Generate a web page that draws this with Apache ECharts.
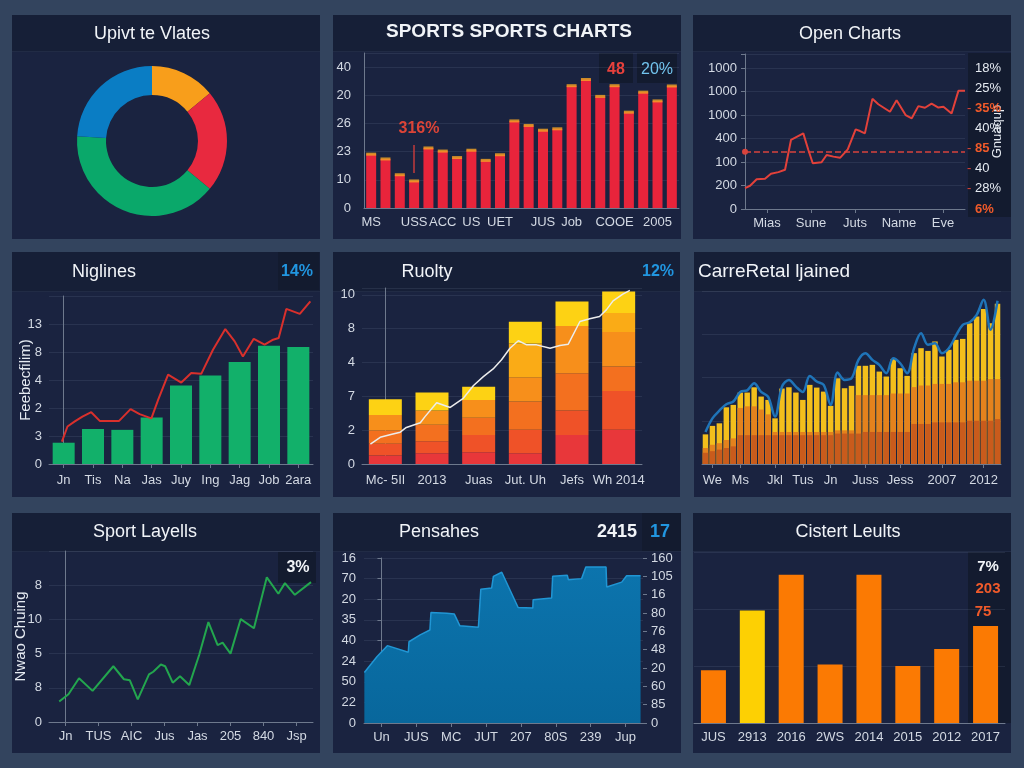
<!DOCTYPE html>
<html><head><meta charset="utf-8">
<script src="https://cdn.jsdelivr.net/npm/echarts@6/dist/echarts.min.js"></script>
<style>
html,body{margin:0;padding:0;background:#33445e;width:1024px;height:768px;overflow:hidden}
.panel{position:absolute;background:#1a2340}
.head{position:absolute;left:0;top:0;right:0;background:#161f37;border-bottom:1px solid #212b45}
.box{position:absolute;background:#131b2f}
#chart{position:absolute;left:0;top:0;width:1024px;height:768px}
</style></head><body>
<div id="chart"></div>
<script>
// ---------------- DATA ----------------
// Panel 1 – donut
const p1Names = ['Orange', 'Red', 'Green', 'Blue'];
const p1Values = [14, 22, 40, 24];

// Panel 2 – SPORTS SPORTS CHARTS
const p2Categories = ['MS','','','USS','','ACC','','US','','UET','','','JUS','','Job','','','COOE','','','2005',''];
const p2Values = [19.1,17.4,11.8,9.6,21.3,20.2,17.9,20.5,16.9,18.9,30.9,29.3,27.6,28.1,43.4,45.6,39.6,43.4,34.0,41.1,38.0,43.3];
const p2YLabels = ['0','10','23','26','20','40'];

// Panel 3 – Open Charts
const p3X = [0,2.3,5.3,9.1,11.8,15.2,18.2,20.9,26.5,28.8,30.8,34.8,37.1,40.2,43.2,46.7,50.3,52.3,54.5,57.9,60.6,63.6,65.9,68.9,73.0,75.8,78.8,81.8,84.8,87.9,90.2,93.9,97.0,100];
const p3Y = [0.89,0.99,1.27,1.29,1.50,1.57,1.67,2.94,3.22,2.51,1.95,1.99,2.30,2.23,2.18,2.54,3.39,3.32,3.22,4.69,4.46,4.28,4.14,4.63,4.00,3.86,4.38,4.31,4.49,4.32,4.35,4.07,5.03,5.03];
const p3Threshold = 2.44;
const p3XLabels = ['Mias','Sune','Juts','Name','Eve'];
const p3YLabels = ['0','200','100','400','1000','1000','1000'];
const p3RightLabels = ['6%','28%','40','85','40%','35%','25%','18%'];
const p3RightName = 'Gnuaqup';

// Panel 4 – Niglines
const p4Categories = ['Jn','Tis','Na','Jas','Juy','Ing','Jag','Job','2ara'];
const p4Bars = [0.76,1.25,1.22,1.66,2.80,3.16,3.64,4.22,4.18];
const p4LineX = [-0.06,0.13,0.38,0.64,0.94,1.23,1.57,1.89,2.28,2.59,2.99,3.22,3.56,4.01,4.35,4.69,5.09,5.51,5.83,6.11,6.48,6.85,7.14,7.33,7.59,8.05,8.41];
const p4LineY = [0.80,1.34,1.52,1.69,1.85,1.54,1.54,1.54,1.96,1.78,1.63,2.29,3.19,2.91,3.25,3.22,4.08,4.82,4.38,3.84,4.47,4.26,4.44,4.50,5.54,5.36,5.81];
const p4YLabels = ['0','3','2','4','8','13'];
const p4YName = 'Feebecfilim)';

// Panel 5 – Ruolty (stacked layers, bottom to top)
const p5Categories = ['Mc- 5Il','2013','Juas','Jut. Uh','Jefs','Wh 2014'];
const p5Layer1 = [0.25,0.32,0.35,0.32,0.86,1.01];
const p5Layer2 = [0.35,0.35,0.51,0.69,0.72,1.15];
const p5Layer3 = [0.39,0.49,0.51,0.84,1.10,0.72];
const p5Layer4 = [0.46,0.42,0.52,0.71,1.40,1.02];
const p5Layer5 = [0,0,0,1.00,0,0.56];
const p5Layer6 = [0.46,0.53,0.39,0.64,0.72,0.64];
const p5LineX = [-0.32,-0.11,0.14,0.32,0.45,0.75,0.85,1.10,1.39,1.67,1.89,2.10,2.31,2.49,2.67,2.85,3.03,3.24,3.53,3.74,3.92,4.17,4.38,4.59,4.74,4.88,5.09,5.24];
const p5LineY = [0.59,0.79,0.88,0.94,1.08,1.22,1.40,1.81,1.67,1.94,2.32,2.58,2.81,3.08,3.42,3.64,3.52,3.52,3.42,3.50,3.54,4.21,4.29,4.36,4.56,4.82,5.02,5.13];
const p5YLabels = ['0','2','7','4','8','10'];

// Panel 6 – CarreRetal ljained
const p6Categories = ['','We','','','','Ms','','','','','Jkl','','','','Tus','','','','Jn','','','','','Juss','','','','','Jess','','','','','','2007','','','','','','2012','',''];
const p6Total = [1.85,2.38,2.54,3.54,3.69,4.46,4.46,4.79,4.21,4.00,2.85,4.71,4.79,4.46,4.00,4.94,4.77,4.52,3.63,5.35,4.73,4.88,6.13,6.13,6.19,5.77,5.46,6.56,5.98,5.50,6.92,7.23,7.06,7.65,6.71,7.13,7.75,7.81,8.79,9.21,9.67,8.79,10.00];
const p6Mid = [1.0,1.2,1.3,1.5,1.6,3.5,3.6,3.6,3.4,3.1,2.0,2.0,2.0,2.0,2.0,2.0,2.0,2.0,2.0,2.1,2.1,2.1,4.3,4.3,4.3,4.3,4.3,4.4,4.4,4.4,4.8,4.9,4.9,5.0,5.0,5.0,5.1,5.1,5.2,5.2,5.2,5.3,5.3];
const p6Low = [0.7,0.8,0.9,1.0,1.1,1.8,1.8,1.8,1.8,1.8,1.8,1.8,1.8,1.8,1.8,1.8,1.8,1.8,1.8,1.9,1.9,1.9,1.9,2.0,2.0,2.0,2.0,2.0,2.0,2.0,2.5,2.5,2.5,2.6,2.6,2.6,2.6,2.6,2.7,2.7,2.7,2.7,2.8];
const p6Line = [2.0,2.85,3.33,3.73,3.9,4.5,4.6,5.04,4.5,4.2,2.96,4.83,5.25,4.83,4.5,5.5,5.15,4.94,3.69,5.71,5.25,5.35,6.5,6.92,6.5,6.19,5.67,6.6,6.29,5.67,7.23,8.17,7.44,7.54,6.92,7.23,8.0,8.69,8.85,9.31,10.25,8.38,10.19];

// Panel 7 – Sport Layells
const p7Categories = ['Jn','TUS','AIC','Jus','Jas','205','840','Jsp'];
const p7LineX = [-0.19,0.09,0.41,0.82,1.45,1.77,1.95,2.19,2.53,2.66,2.89,3.02,3.25,3.47,3.75,4.05,4.33,4.61,4.76,5.0,5.31,5.71,6.10,6.45,6.65,6.95,7.44];
const p7LineY = [0.60,0.81,1.28,0.91,1.63,1.25,1.22,0.66,1.39,1.47,1.68,1.63,1.15,1.34,1.08,1.96,2.92,2.25,2.32,2.00,3.01,2.74,4.23,3.75,4.06,3.72,4.09];
const p7YLabels = ['0','8','5','10','8'];
const p7YName = 'Nwao Chuing';

// Panel 8 – Pensahes
const p8Categories = ['Un','JUS','MC','JUT','207','80S','239','Jup'];
const p8LineX = [-0.49,-0.13,0.17,0.77,0.79,1.11,1.39,1.42,1.87,2.09,2.25,2.78,2.85,3.16,3.21,3.45,3.92,4.34,4.35,4.88,4.91,5.33,5.36,5.74,5.86,6.44,6.46,6.89,7.03,7.43];
const p8LineY = [2.45,3.21,3.75,3.43,3.94,4.27,4.51,5.36,5.32,5.28,4.71,4.64,6.49,6.54,7.11,7.31,5.60,5.57,5.97,6.06,7.11,7.16,6.95,7.00,7.56,7.56,6.59,6.83,7.14,7.14];
const p8LeftLabels = ['0','22','50','24','40','35','20','70','16'];
const p8RightLabels = ['0','85','60','20','48','76','80','16','105','160'];

// Panel 9 – Cistert Leults
const p9Categories = ['JUS','2913','2016','2WS','2014','2015','2012','2017'];
const p9Values = [37,79,104,41,104,40,52,68];

// ---------------- LAYOUT / STYLE ----------------
const FONT = "'Liberation Sans', Arial, Helvetica, sans-serif";
const LBL = '#d3d9e3', AXL = '#6e798d', SPL = 'rgba(160,175,200,0.12)';
const WHITE = '#f1f4f8', BLUE = '#2196e0', ORANGE = '#f05a2a';

const panels = [
  [12,15,308,224,36],[333,15,348,224,36],[693,15,318,224,36],
  [12,252,308,245,39],[333,252,347,245,39],[694,252,317,245,39],
  [12,513,308,240,38],[333,513,348,240,38],[693,513,318,240,38]
];
const boxes = [[599,53,34,30],[637,53,40,30],[968,53,43,164],[278,252,41,38],[278,552,38,31],[642,513,39,38],[968,552,43,171]];
const chartEl = document.getElementById('chart');
panels.forEach(p => {
  const d = document.createElement('div'); d.className = 'panel';
  d.style.cssText = `left:${p[0]}px;top:${p[1]}px;width:${p[2]}px;height:${p[3]}px`;
  const h = document.createElement('div'); h.className = 'head'; h.style.height = p[4] + 'px';
  d.appendChild(h); document.body.insertBefore(d, chartEl);
});
boxes.forEach(b => {
  const d = document.createElement('div'); d.className = 'box';
  d.style.cssText = `left:${b[0]}px;top:${b[1]}px;width:${b[2]}px;height:${b[3]}px`;
  document.body.insertBefore(d, chartEl);
});

const grids = [], xAxes = [], yAxes = [], series = [], gfx = [];
const addGrid = g => (grids.push(g), grids.length - 1);
const addX = a => (xAxes.push(a), xAxes.length - 1);
const addY = a => (yAxes.push(a), yAxes.length - 1);
const zip = (xs, ys) => xs.map((x, i) => [x, ys[i]]);
function pick(labels, v, step) {
  const i = Math.round(v / step);
  return (Math.abs(v - i * step) < 1e-6 && i >= 0 && i < labels.length) ? labels[i] : '';
}
function catAxis(grid, data, margin, ticks) {
  return {type:'category', gridIndex:grid, data, position:'bottom', boundaryGap:true,
    axisLine:{show:true, lineStyle:{color:AXL, width:1}},
    axisTick:{show:!!ticks, alignWithLabel:true, length:4, lineStyle:{color:AXL}, interval: typeof ticks === 'function' ? ticks : 0},
    axisLabel:{show:true, color:LBL, fontSize:13, fontFamily:FONT, margin, interval:0},
    splitLine:{show:false}};
}
function valAxis(grid, labels, step, max, margin, extra) {
  return Object.assign({type:'value', gridIndex:grid, min:0, max, interval:step,
    axisLine:{show:true, lineStyle:{color:AXL}}, axisTick:{show:false},
    splitLine:{show:true, lineStyle:{color:SPL}},
    axisLabel:{show:true, color:LBL, fontSize:13, fontFamily:FONT, margin, showMinLabel:true, showMaxLabel:true,
      formatter: v => pick(labels, v, step)}}, extra || {});
}
const hidVal = (grid, min, max) => ({type:'value', gridIndex:grid, min, max, show:false});
function txt(x, y, text, size, color, weight, align) {
  return {type:'text', x, y, z:100, silent:true,
    style:{text, fill:color, font:`${weight || 'normal'} ${size}px ${FONT}`,
      textAlign:align || 'center', textVerticalAlign:'middle', align:align || 'center', verticalAlign:'middle'}};
}

// titles
gfx.push(txt(152, 34, 'Upivt te Vlates', 18, WHITE));
gfx.push(txt(509, 32, 'SPORTS SPORTS CHARTS', 19, WHITE, 'bold'));
gfx.push(txt(850, 34, 'Open Charts', 18, WHITE));
gfx.push(txt(104, 272, 'Niglines', 18, WHITE));
gfx.push(txt(427, 272, 'Ruolty', 18, WHITE));
gfx.push(txt(698, 272, 'CarreRetal ljained', 19, WHITE, 'normal', 'left'));
gfx.push(txt(145, 532, 'Sport Layells', 18, WHITE));
gfx.push(txt(439, 532, 'Pensahes', 18, WHITE));
gfx.push(txt(848, 532, 'Cistert Leults', 18, WHITE));
// annotations
gfx.push(txt(419, 129, '316%', 16, '#dc4437', 'bold'));
gfx.push({type:'line', z:100, silent:true, shape:{x1:414, y1:145, x2:414, y2:173}, style:{stroke:'#c23b3b', lineWidth:1.5}});
gfx.push(txt(616, 70, '48', 16, '#e8413c', 'bold'));
gfx.push(txt(657, 70, '20%', 16, '#72c4ee'));
gfx.push(txt(297, 272, '14%', 16, BLUE, 'bold'));
gfx.push(txt(658, 272, '12%', 16, BLUE, 'bold'));
gfx.push(txt(298, 568, '3%', 16, WHITE, 'bold'));
gfx.push(txt(617, 532, '2415', 18, WHITE, 'bold'));
gfx.push(txt(660, 532, '17', 18, BLUE, 'bold'));
gfx.push(txt(988, 567, '7%', 15, WHITE, 'bold'));
gfx.push(txt(988, 589, '203', 15, ORANGE, 'bold'));
gfx.push(txt(983, 612, '75', 15, ORANGE, 'bold'));

// Panel 1
const p1Colors = ['#f89e1b', '#e8293f', '#0aa86a', '#0a7dc4'];
series.push({type:'pie', center:[152,141], radius:[46,75], startAngle:90, clockwise:true, silent:true,
  label:{show:false}, labelLine:{show:false},
  data: p1Names.map((n, i) => ({name:n, value:p1Values[i], itemStyle:{color:p1Colors[i], borderWidth:0}}))});

// Panel 2
const g2 = addGrid({left:364, top:53, width:315, height:155});
const x2 = addX(catAxis(g2, p2Categories, 8, false));
const y2 = addY(valAxis(g2, p2YLabels, 10, 55, 13));
series.push({type:'bar', xAxisIndex:x2, yAxisIndex:y2, data:p2Values, barWidth:10, silent:true, itemStyle:{color:'#e8243b'}});
series.push({type:'scatter', xAxisIndex:x2, yAxisIndex:y2, data:p2Values, symbol:'rect', symbolSize:[10,3], silent:true, z:4, itemStyle:{color:'#f6a524'}});

// Panel 3
const g3 = addGrid({left:745, top:54, width:220, height:155});
const x3v = addX(hidVal(g3, 0, 100));
const x3c = addX(catAxis(g3, p3XLabels, 8, true));
const y3 = addY(valAxis(g3, p3YLabels, 1, 6.6, 8, {axisTick:{show:true, length:4, lineStyle:{color:AXL}}}));
const p3Orange = [0, 3, 5], p3Dash = [1, 2, 3, 5];
const y3r = addY({type:'value', gridIndex:g3, position:'right', min:0, max:7.7, interval:1,
  axisLine:{show:false}, axisTick:{show:false}, splitLine:{show:false},
  name:p3RightName, nameLocation:'middle', nameRotate:90, nameGap:26, nameMoveOverlap:false,
  nameTextStyle:{color:'#e6ebf2', fontSize:13, fontFamily:FONT},
  axisLabel:{show:true, align:'left', margin:2, fontFamily:FONT, fontSize:13, showMaxLabel:true,
    formatter: v => {
      const s = pick(p3RightLabels, v, 1); if (!s) return '';
      const i = Math.round(v);
      return (p3Dash.includes(i) ? '{d|-} ' : '{n|-} ') + (p3Orange.includes(i) ? '{o|' + s + '}' : '{w|' + s + '}');
    },
    rich:{w:{color:'#e6ebf2', fontSize:13, fontFamily:FONT}, o:{color:ORANGE, fontSize:13, fontWeight:'bold', fontFamily:FONT},
      d:{color:'#d9443a', fontSize:13, fontFamily:FONT}, n:{color:'rgba(0,0,0,0)', fontSize:13, fontFamily:FONT}}}});
series.push({type:'line', xAxisIndex:x3v, yAxisIndex:y3, data:zip(p3X, p3Y), symbol:'none', silent:true,
  lineStyle:{color:'#e3413a', width:2}, z:5,
  markLine:{silent:true, symbol:['circle','none'], symbolSize:6, label:{show:false},
    lineStyle:{color:'#d8433c', type:'dashed', width:1.5}, data:[{yAxis:p3Threshold}]}});

// Panel 4
const g4 = addGrid({left:49, top:296, width:264, height:168});
const x4 = addX(catAxis(g4, p4Categories, 10, true));
const x4v = addX(hidVal(g4, -0.5, 8.5));
const y4 = addY(valAxis(g4, p4YLabels, 1, 6, 7, {name:p4YName, nameLocation:'middle', nameRotate:90, nameGap:16, nameMoveOverlap:false,
  nameTextStyle:{color:'#e6ebf2', fontSize:15, fontFamily:FONT}}));
series.push({type:'bar', xAxisIndex:x4, yAxisIndex:y4, data:p4Bars, barWidth:22, silent:true, itemStyle:{color:'#12b06a'}});
series.push({type:'line', xAxisIndex:x4v, yAxisIndex:y4, data:zip(p4LineX, p4LineY), symbol:'none', silent:true, z:5, lineStyle:{color:'#d9302c', width:2}});

// Panel 5
const g5 = addGrid({left:362, top:288, width:280, height:176});
const x5 = addX(catAxis(g5, p5Categories, 10, false));
const x5v = addX(hidVal(g5, -0.5, 5.5));
const y5 = addY(valAxis(g5, p5YLabels, 1, 5.2, 7));
const p5Colors = ['#e8373a', '#ef5228', '#f3701f', '#f78f1b', '#faab16', '#fdd214'];
[p5Layer1, p5Layer2, p5Layer3, p5Layer4, p5Layer5, p5Layer6].forEach((layer, i) => {
  series.push({type:'bar', xAxisIndex:x5, yAxisIndex:y5, stack:'p5', data:layer, barWidth:33, silent:true, itemStyle:{color:p5Colors[i]}});
});
series.push({type:'line', xAxisIndex:x5v, yAxisIndex:y5, data:zip(p5LineX, p5LineY), symbol:'none', silent:true, z:6, lineStyle:{color:'#ececec', width:1.5}});

// Panel 6
const g6 = addGrid({left:702, top:291, width:299, height:173});
const x6 = addX(catAxis(g6, p6Categories, 10, (i, v) => v !== ''));
const y6 = addY({type:'value', gridIndex:g6, min:0, max:10.8, interval:2.7, axisLine:{show:false}, axisTick:{show:false}, axisLabel:{show:false}, splitLine:{show:true, lineStyle:{color:SPL}}});
[[p6Total, '#f3bf1c'], [p6Mid, '#e4821d'], [p6Low, '#c95b1c']].forEach(([d, c]) => {
  series.push({type:'bar', xAxisIndex:x6, yAxisIndex:y6, data:d, barWidth:5.5, barGap:'-100%', silent:true, itemStyle:{color:c}});
});
series.push({type:'line', xAxisIndex:x6, yAxisIndex:y6, data:p6Line, symbol:'none', smooth:0.35, silent:true, z:6, lineStyle:{color:'#1f74b8', width:2.5}});

// Panel 7
const g7 = addGrid({left:49, top:551, width:264, height:171});
const x7 = addX(catAxis(g7, p7Categories, 8, true));
const x7v = addX(hidVal(g7, -0.5, 7.5));
const y7 = addY(valAxis(g7, p7YLabels, 1, 5, 7, {name:p7YName, nameLocation:'middle', nameRotate:90, nameGap:21, nameMoveOverlap:false,
  nameTextStyle:{color:'#e6ebf2', fontSize:15, fontFamily:FONT}}));
series.push({type:'line', xAxisIndex:x7v, yAxisIndex:y7, data:zip(p7LineX, p7LineY), symbol:'none', silent:true, z:5, lineStyle:{color:'#23a64e', width:2}});

// Panel 8
const g8 = addGrid({left:364, top:558, width:279, height:165});
const x8 = addX(catAxis(g8, p8Categories, 8, true));
const x8v = addX(hidVal(g8, -0.5, 7.5));
const y8 = addY(valAxis(g8, p8LeftLabels, 1, 8, 8, {axisTick:{show:true, length:4, lineStyle:{color:AXL}}}));
const y8r = addY(valAxis(g8, p8RightLabels, 1, 9, 8, {position:'right', axisLine:{show:false}, splitLine:{show:false},
  axisTick:{show:true, length:4, lineStyle:{color:AXL}}}));
series.push({type:'line', xAxisIndex:x8v, yAxisIndex:y8, data:zip(p8LineX, p8LineY), symbol:'none', silent:true, z:3,
  lineStyle:{color:'#2196d4', width:1.5},
  areaStyle:{opacity:1, color:new echarts.graphic.LinearGradient(0,0,0,1,[{offset:0,color:'#0c74ad'},{offset:1,color:'#08679c'}])}});

// Panel 9
const g9 = addGrid({left:694, top:552, width:311, height:171});
const x9 = addX(catAxis(g9, p9Categories, 8, false));
const y9 = addY({type:'value', gridIndex:g9, min:0, max:120, interval:40, axisLine:{show:false}, axisTick:{show:false}, axisLabel:{show:false}, splitLine:{show:true, lineStyle:{color:SPL}}});
series.push({type:'bar', xAxisIndex:x9, yAxisIndex:y9, data:p9Values, barWidth:25, silent:true,
  itemStyle:{color: p => p.dataIndex === 1 ? '#fdd003' : '#fb7a03'}});

const chart = echarts.init(chartEl, null, {renderer:'canvas'});
chart.setOption({animation:false, backgroundColor:'transparent', textStyle:{fontFamily:FONT},
  grid:grids, xAxis:xAxes, yAxis:yAxes, series, graphic:{elements:gfx}});
</script>
</body></html>
